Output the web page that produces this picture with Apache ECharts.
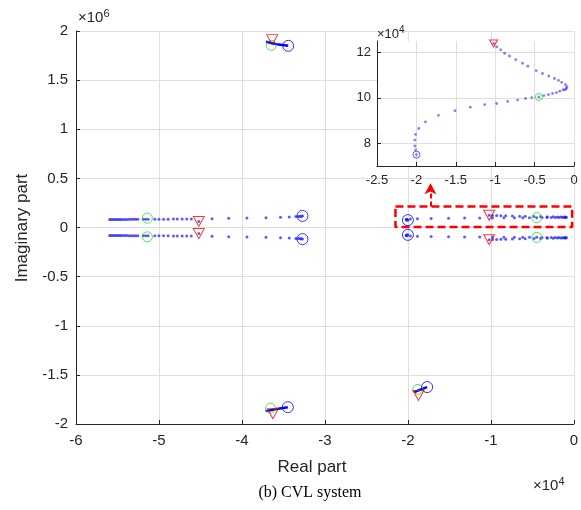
<!DOCTYPE html>
<html><head><meta charset="utf-8">
<script src="https://cdn.jsdelivr.net/npm/echarts@6/dist/echarts.min.js"></script>
<style>html,body{margin:0;padding:0;background:#fff}#c{width:581px;height:510px}</style>
</head><body><div id="c"></div>
<script>
// ---- DATA (real units) ----
// Right branch, upper half (traced from red triangle to blue circle); lower half is its conjugate
const rightX = [-10200,-9800,-9300,-8800,-8200,-7400,-6530,-5860,-4800,-4000,-3200,-2480,-1970,-1560,-1090,-900,-960,-1050,-1200,-1390,-1800,-2230,-2730,-3240,-3830,-4470,-5350,-6150,-7160,-8430,-9820,-11340,-13160,-15100,-17200,-18850,-19700,-20100,-20200,-20200,-20100,-20000];
const rightY = [123900,122400,121100,119600,118400,116800,115200,113900,112000,110700,109600,108500,107700,106800,105800,104900,104200,103800,103500,103500,102900,102300,101900,101400,101000,100400,100100,99700,99000,98400,97500,97000,95900,94300,92300,89400,86500,83900,81400,78800,77100,75000];
// Left branch, upper half
const leftX = [-55950,-55750,-55550,-55350,-55150,-54950,-54750,-54550,-54300,-54050,-53800,-53550,-53300,-53050,-52800,-52550,-51900,-51600,-51300,-50500,-50000,-49450,-48900,-48250,-47800,-47200,-46650,-46100,-45200,-43600,-41600,-39400,-37100,-35350,-34300,-33500,-33200,-33000,-32850,-32700];
const leftY = [82000,82000,82000,82000,82000,82000,82000,82000,82500,82500,82500,83000,83000,83000,83000,83500,84000,84000,84500,85000,85000,85000,85000,85500,85500,85500,85500,86000,62000,90000,93000,97000,100000,105000,108000,112000,113000,114000,115000,118000];
// Short fast trajectories (start -> end)
const topPathX = [-37100,-35800,-34420];
const topPathY = [1890000,1866000,1850000];
const botPathX = [-37150,-35800,-34470];
const botPathY = [-1869000,-1848000,-1829000];
const brPathX = [-19210,-18500,-17680];
const brPathY = [-1675000,-1650000,-1624000];
// Markers: red triangles, green circles, blue circles
const triX = [-45200,-45200,-10200,-10200,-36350,-36270,-18730];
const triY = [62000,-62000,123900,-123900,1912000,-1896000,-1709000];
const greenX = [-51400,-51400,-4470,-4470,-36470,-36550,-18810];
const greenY = [95000,-95000,100400,-100400,1855000,-1839000,-1648000];
const blueX = [-32700,-32700,-20000,-20000,-34420,-34470,-17680];
const blueY = [118000,-118000,75000,-75000,1849000,-1829000,-1624000];
// Zoom box and arrow
const boxX = [-21500,-200,-200,-21500,-21500];
const boxY = [215000,215000,5000,5000,215000];
const arrowX = [-17280,-17280];
const arrowY = [215000,450000];
// Tick values
const mainXTicks = [-6,-5,-4,-3,-2,-1,0];
const mainYTicks = [-2,-1.5,-1,-0.5,0,0.5,1,1.5,2];
const insetXTicks = [-2.5,-2,-1.5,-1,-0.5,0];
const insetYTicks = [8,10,12];

// ---- helpers ----
const X4 = v => v/1e4, Y6 = v => v/1e6, Y4 = v => v/1e4;
const zip = (xs, ys, fx, fy) => xs.map((x,i)=>[fx(x), fy(ys[i])]);
const conj = ys => ys.map(v=>-v);

const mainDots = zip(rightX, rightY, X4, Y6)
  .concat(zip(rightX, conj(rightY), X4, Y6))
  .concat(zip(leftX, leftY, X4, Y6))
  .concat(zip(leftX, conj(leftY), X4, Y6));

const TXT = '#262626', GRID = '#dfdfdf', FONT = 'Liberation Sans';
const dotStyle = {color:'rgba(30,30,255,0.9)'};

function axisCommon(extra){
  return Object.assign({
    axisLine:{show:true,onZero:false,lineStyle:{color:TXT,width:1}},
    axisTick:{show:true,inside:true,length:4,lineStyle:{color:TXT}},
    splitLine:{show:true,lineStyle:{color:GRID,width:1}},
    axisLabel:{color:TXT,fontFamily:FONT}
  }, extra);
}

const chart = echarts.init(document.getElementById('c'), null, {renderer:'canvas'});
const option = {
  animation:false,
  backgroundColor:'#fff',
  grid:[
    {left:76,top:31,width:498,height:393,z:0},
    {left:377,top:41,width:197,height:125,show:true,backgroundColor:'#fff',borderWidth:0,z:3}
  ],
  xAxis:[
    axisCommon({gridIndex:0,type:'value',min:-6,max:0,interval:1,z:0,
      axisLabel:{color:TXT,fontFamily:FONT,fontSize:15,margin:9,customValues:mainXTicks}}),
    axisCommon({gridIndex:1,type:'value',min:-2.5,max:0,interval:0.5,z:4,
      axisLabel:{color:TXT,fontFamily:FONT,fontSize:13,margin:8,customValues:insetXTicks}})
  ],
  yAxis:[
    axisCommon({gridIndex:0,type:'value',min:-2,max:2,interval:0.5,z:0,
      axisLabel:{color:TXT,fontFamily:FONT,fontSize:15,margin:8,customValues:mainYTicks}}),
    axisCommon({gridIndex:1,type:'value',min:7,max:12.5,z:4,
      axisTick:{show:true,inside:true,length:4,lineStyle:{color:TXT},customValues:insetYTicks},
      axisLabel:{color:TXT,fontFamily:FONT,fontSize:13,margin:6,customValues:insetYTicks}})
  ],
  series:[
    {type:'scatter',xAxisIndex:0,yAxisIndex:0,data:mainDots,symbol:'circle',symbolSize:3,itemStyle:dotStyle,silent:true,z:2},
    {type:'line',xAxisIndex:0,yAxisIndex:0,data:zip(topPathX,topPathY,X4,Y6),symbol:'none',lineStyle:{color:'#0000ff',width:2.5},z:2},
    {type:'line',xAxisIndex:0,yAxisIndex:0,data:zip(botPathX,botPathY,X4,Y6),symbol:'none',lineStyle:{color:'#0000ff',width:2.5},z:2},
    {type:'line',xAxisIndex:0,yAxisIndex:0,data:zip(brPathX,brPathY,X4,Y6),symbol:'none',lineStyle:{color:'#0000ff',width:2.5},z:2},
    {type:'scatter',xAxisIndex:0,yAxisIndex:0,data:zip(greenX,greenY,X4,Y6),symbol:'circle',symbolSize:10,
      itemStyle:{color:'rgba(0,0,0,0)',borderColor:'#22dd22',borderWidth:1},z:3},
    {type:'scatter',xAxisIndex:0,yAxisIndex:0,data:zip(blueX,blueY,X4,Y6),symbol:'circle',symbolSize:11,
      itemStyle:{color:'rgba(0,0,0,0)',borderColor:'#0000ff',borderWidth:1},z:3},
    {type:'scatter',xAxisIndex:0,yAxisIndex:0,data:zip(triX,triY,X4,Y6),symbol:'triangle',symbolRotate:180,symbolSize:[11,10],
      itemStyle:{color:'rgba(0,0,0,0)',borderColor:'#ff0000',borderWidth:1},z:3},
    {type:'line',xAxisIndex:0,yAxisIndex:0,data:zip(boxX,boxY,X4,Y6),symbol:'none',
      lineStyle:{color:'#ff0000',width:2.5,type:[8,4]},z:3},
    {type:'line',xAxisIndex:0,yAxisIndex:0,data:[],symbol:'none',z:3,
      markLine:{silent:true,symbol:['none','arrow'],symbolSize:[9,11],label:{show:false},
        lineStyle:{color:'#ff0000',width:2,type:[5,3]},itemStyle:{color:'#ff0000'},
        data:[[{coord:[X4(arrowX[0]),Y6(arrowY[0])]},{coord:[X4(arrowX[1]),Y6(arrowY[1])]}]]}},
    // inset
    {type:'scatter',xAxisIndex:1,yAxisIndex:1,data:zip(rightX,rightY,X4,Y4),symbol:'circle',symbolSize:2.8,itemStyle:{color:'rgba(70,70,255,0.85)'},z:6},
    {type:'scatter',xAxisIndex:1,yAxisIndex:1,data:[[X4(greenX[2]),Y4(greenY[2])]],symbol:'circle',symbolSize:7,
      itemStyle:{color:'rgba(0,0,0,0)',borderColor:'#22dd22',borderWidth:1},z:7},
    {type:'scatter',xAxisIndex:1,yAxisIndex:1,data:[[X4(blueX[2]),Y4(blueY[2])]],symbol:'circle',symbolSize:7,
      itemStyle:{color:'rgba(0,0,0,0)',borderColor:'#3333ff',borderWidth:1},z:7},
    {type:'scatter',xAxisIndex:1,yAxisIndex:1,data:[[X4(triX[2]),Y4(triY[2])]],symbol:'triangle',symbolRotate:180,symbolSize:[8,7],
      itemStyle:{color:'rgba(0,0,0,0)',borderColor:'#ff0000',borderWidth:1},z:7}
  ],
  graphic:[
    {type:'text',left:78,top:8,z:10,style:{text:'{a|×10}{b|6}',rich:{a:{fontFamily:FONT,fontSize:15,fill:TXT},b:{fontFamily:FONT,fontSize:11,fill:TXT,padding:[0,0,8,0]}}}},
    {type:'text',left:377,top:25,z:10,style:{text:'{a|×10}{b|4}',rich:{a:{fontFamily:FONT,fontSize:13,fill:TXT},b:{fontFamily:FONT,fontSize:10,fill:TXT,padding:[0,0,8,0]}}}},
    {type:'text',left:533,top:476,z:10,style:{text:'{a|×10}{b|4}',rich:{a:{fontFamily:FONT,fontSize:15,fill:TXT},b:{fontFamily:FONT,fontSize:11,fill:TXT,padding:[0,0,8,0]}}}},
    {type:'text',x:312,y:467,z:10,style:{text:'Real part',fontFamily:FONT,fontSize:17,fill:TXT,align:'center',verticalAlign:'middle'}},
    {type:'text',x:22,y:228,rotation:Math.PI/2,z:10,style:{text:'Imaginary part',fontFamily:FONT,fontSize:17,fill:TXT,align:'center',verticalAlign:'middle'}},
    {type:'text',x:310,y:493,z:10,style:{text:'(b) CVL system',fontFamily:'Liberation Serif',fontSize:16,fill:'#000',align:'center',verticalAlign:'middle'}}
  ]
};
chart.setOption(option);
</script>
</body></html>
